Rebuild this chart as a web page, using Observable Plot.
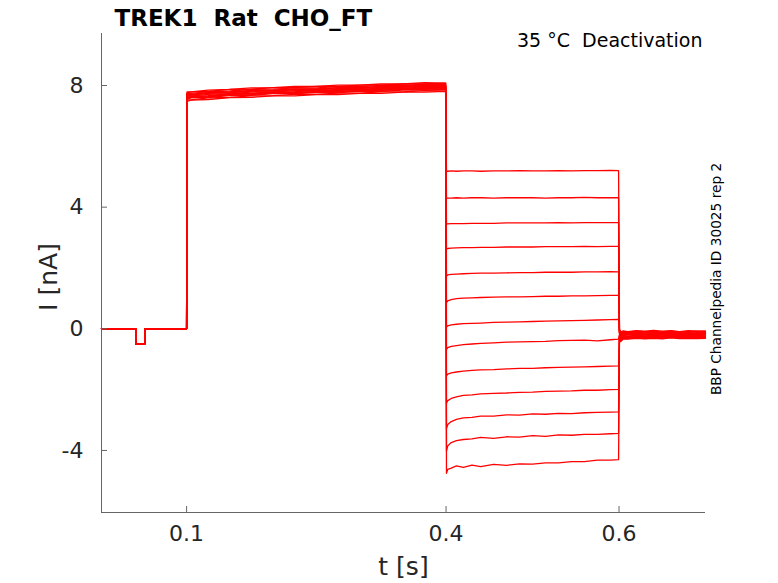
<!DOCTYPE html>
<html>
<head>
<meta charset="utf-8">
<script src="https://cdn.jsdelivr.net/npm/d3@7"></script>
<script src="https://cdn.jsdelivr.net/npm/@observablehq/plot@0.6"></script>
<style>
  html, body { margin: 0; padding: 0; background: #fff; }
  svg text { white-space: pre; }
</style>
</head>
<body>
<div id="chart"></div>
<script>
// ---- texts ----
const titleText = "TREK1  Rat  CHO_FT";
const conditionText = "35 °C  Deactivation";
const sideText = "BBP Channelpedia ID 30025 rep 2";
const xLabel = "t [s]";
const yLabel = "I [nA]";

// ---- axes ----
const xDomain = [0.0016, 0.7];
const yDomain = [-6.04, 9.71];
const xTicks = [0.1, 0.4, 0.6];
const yTicks = [-4, 0, 4, 8];

// ---- holding segment (shared by all sweeps) ----
const preT = [0.0016, 0.0412, 0.0412, 0.0516, 0.0516, 0.1];
const preI = [0, 0, -0.5, -0.5, 0, 0];

// ---- activation step 0.1 - 0.4 s ----
const actT = [0.1005, 0.105, 0.125, 0.15, 0.175, 0.2, 0.225, 0.25, 0.275, 0.3, 0.325, 0.35, 0.375, 0.3995];
const actI = [
  [7.61, 7.65, 7.67, 7.73, 7.74, 7.79, 7.80, 7.83, 7.83, 7.87, 7.87, 7.91, 7.91, 7.94],
  [7.71, 7.71, 7.77, 7.79, 7.84, 7.85, 7.89, 7.89, 7.93, 7.93, 7.97, 7.97, 8.01, 8.00],
  [7.53, 7.53, 7.59, 7.61, 7.66, 7.67, 7.71, 7.71, 7.75, 7.75, 7.79, 7.79, 7.83, 7.82],
  [7.75, 7.79, 7.81, 7.87, 7.88, 7.93, 7.93, 7.97, 7.97, 8.01, 8.01, 8.05, 8.05, 8.08],
  [7.65, 7.65, 7.71, 7.73, 7.78, 7.79, 7.83, 7.83, 7.87, 7.87, 7.91, 7.91, 7.95, 7.94],
  [7.55, 7.59, 7.61, 7.67, 7.68, 7.73, 7.73, 7.77, 7.77, 7.81, 7.81, 7.85, 7.85, 7.88],
  [7.74, 7.74, 7.80, 7.82, 7.87, 7.88, 7.92, 7.92, 7.96, 7.96, 8.00, 8.00, 8.04, 8.03],
  [7.59, 7.63, 7.65, 7.71, 7.72, 7.77, 7.77, 7.81, 7.81, 7.85, 7.85, 7.89, 7.89, 7.92],
  [7.68, 7.68, 7.74, 7.76, 7.81, 7.82, 7.86, 7.86, 7.90, 7.90, 7.94, 7.94, 7.98, 7.97],
  [7.48, 7.52, 7.54, 7.60, 7.61, 7.66, 7.66, 7.70, 7.70, 7.74, 7.74, 7.78, 7.78, 7.81],
  [7.79, 7.79, 7.85, 7.87, 7.92, 7.93, 7.97, 7.97, 8.01, 8.01, 8.05, 8.05, 8.09, 8.08],
  [7.57, 7.61, 7.63, 7.69, 7.70, 7.75, 7.75, 7.79, 7.79, 7.83, 7.83, 7.87, 7.87, 7.90],
  [7.70, 7.70, 7.76, 7.78, 7.83, 7.84, 7.88, 7.88, 7.92, 7.92, 7.96, 7.96, 8.00, 7.99]
];

// ---- tail (deactivation) steps 0.4 - 0.6 s ----
const tailT = [0.4005, 0.402, 0.406, 0.412, 0.42, 0.43, 0.44, 0.455, 0.47,
               0.485, 0.50, 0.515, 0.53, 0.545, 0.56, 0.575, 0.59, 0.5995];
const tailI = [
  [5.18, 5.18, 5.19, 5.18, 5.19, 5.19, 5.18, 5.19, 5.19, 5.20, 5.19, 5.19, 5.20, 5.19, 5.20, 5.20, 5.21, 5.20],
  [4.30, 4.30, 4.30, 4.31, 4.30, 4.31, 4.31, 4.30, 4.31, 4.31, 4.31, 4.30, 4.31, 4.31, 4.32, 4.31, 4.31, 4.31],
  [3.45, 3.45, 3.46, 3.46, 3.46, 3.47, 3.47, 3.47, 3.48, 3.48, 3.48, 3.48, 3.49, 3.48, 3.49, 3.49, 3.49, 3.49],
  [2.63, 2.64, 2.65, 2.66, 2.67, 2.67, 2.68, 2.68, 2.69, 2.69, 2.69, 2.70, 2.70, 2.70, 2.71, 2.70, 2.71, 2.71],
  [1.74, 1.77, 1.79, 1.80, 1.81, 1.82, 1.83, 1.83, 1.84, 1.85, 1.85, 1.86, 1.86, 1.86, 1.87, 1.87, 1.88, 1.87],
  [0.86, 0.92, 0.96, 0.99, 1.01, 1.02, 1.03, 1.04, 1.05, 1.05, 1.06, 1.07, 1.07, 1.08, 1.08, 1.09, 1.10, 1.10],
  [0.06, 0.10, 0.13, 0.15, 0.17, 0.18, 0.19, 0.21, 0.22, 0.23, 0.24, 0.25, 0.26, 0.27, 0.28, 0.29, 0.30, 0.31],
  [-0.68, -0.62, -0.58, -0.55, -0.52, -0.50, -0.48, -0.46, -0.44, -0.43, -0.42, -0.41, -0.39, -0.38, -0.37, -0.40, -0.36, -0.34],
  [-1.55, -1.49, -1.45, -1.42, -1.39, -1.37, -1.35, -1.34, -1.32, -1.30, -1.30, -1.28, -1.27, -1.26, -1.25, -1.24, -1.23, -1.22],
  [-2.45, -2.36, -2.29, -2.24, -2.19, -2.17, -2.14, -2.12, -2.11, -2.09, -2.08, -2.06, -2.05, -2.04, -2.02, -2.02, -2.00, -1.99],
  [-3.28, -3.15, -3.05, -2.98, -2.93, -2.91, -2.87, -2.87, -2.83, -2.84, -2.80, -2.81, -2.78, -2.79, -2.76, -2.75, -2.74, -2.73],
  [-4.02, -3.85, -3.74, -3.68, -3.64, -3.62, -3.57, -3.60, -3.55, -3.56, -3.51, -3.54, -3.49, -3.50, -3.47, -3.47, -3.45, -3.44],
  [-4.75, -4.62, -4.58, -4.51, -4.56, -4.48, -4.53, -4.46, -4.49, -4.44, -4.45, -4.41, -4.41, -4.37, -4.37, -4.32, -4.32, -4.30]
];

// ---- return to holding after 0.6 s ----
const postT = [0.6005, 0.602, 0.605, 0.61, 0.62, 0.63, 0.64, 0.65, 0.66, 0.67, 0.68, 0.69, 0.7];
const postI = [
  [-0.02, -0.10, -0.07, -0.09, -0.06, -0.08, -0.05, -0.08, -0.06, -0.09, -0.06, -0.08, -0.07],
  [-0.05, -0.12, -0.09, -0.11, -0.08, -0.10, -0.08, -0.11, -0.08, -0.10, -0.09, -0.08, -0.09],
  [-0.07, -0.15, -0.11, -0.13, -0.10, -0.12, -0.11, -0.13, -0.10, -0.12, -0.10, -0.12, -0.11],
  [-0.10, -0.17, -0.13, -0.15, -0.12, -0.14, -0.13, -0.15, -0.12, -0.14, -0.13, -0.14, -0.13],
  [-0.12, -0.19, -0.15, -0.17, -0.14, -0.17, -0.15, -0.17, -0.14, -0.16, -0.15, -0.16, -0.15],
  [-0.14, -0.22, -0.18, -0.19, -0.17, -0.19, -0.17, -0.19, -0.16, -0.18, -0.17, -0.18, -0.17],
  [-0.17, -0.24, -0.20, -0.21, -0.19, -0.21, -0.19, -0.21, -0.18, -0.20, -0.19, -0.20, -0.19],
  [-0.19, -0.27, -0.22, -0.24, -0.21, -0.23, -0.21, -0.23, -0.20, -0.22, -0.21, -0.22, -0.21],
  [-0.22, -0.29, -0.25, -0.26, -0.23, -0.25, -0.23, -0.25, -0.22, -0.24, -0.23, -0.24, -0.23],
  [-0.25, -0.32, -0.27, -0.28, -0.25, -0.27, -0.25, -0.27, -0.24, -0.26, -0.25, -0.26, -0.25],
  [-0.28, -0.35, -0.29, -0.30, -0.27, -0.29, -0.27, -0.29, -0.26, -0.28, -0.27, -0.28, -0.27],
  [-0.31, -0.38, -0.31, -0.32, -0.29, -0.31, -0.29, -0.31, -0.28, -0.30, -0.29, -0.30, -0.29],
  [-0.35, -0.42, -0.34, -0.34, -0.31, -0.33, -0.31, -0.33, -0.30, -0.32, -0.31, -0.32, -0.31]
];

// ---- build long table ----
const rows = [];
for (let k = 0; k < tailI.length; k++) {
  preT.forEach((t, j) => rows.push({sweep: k, t, i: preI[j]}));
  actT.forEach((t, j) => rows.push({sweep: k, t, i: actI[k][j]}));
  tailT.forEach((t, j) => rows.push({sweep: k, t, i: tailI[k][j]}));
  postT.forEach((t, j) => rows.push({sweep: k, t, i: postI[k][j]}));
}

const axisGray = "#666666";
const textDark = "#262626";

const chart = Plot.plot({
  width: 778,
  height: 583,
  marginLeft: 101,
  marginRight: 73,
  marginTop: 33,
  marginBottom: 71,
  style: {fontFamily: "DejaVu Sans", background: "#fff", color: textDark},
  x: {domain: xDomain, label: null},
  y: {domain: yDomain, label: null},
  marks: [
    Plot.line(rows, {x: "t", y: "i", z: "sweep", stroke: "#ff0000", strokeWidth: 1.3}),
    Plot.ruleX([xDomain[0]], {stroke: axisGray, strokeWidth: 1}),
    Plot.ruleY([yDomain[0]], {stroke: axisGray, strokeWidth: 1}),
    Plot.axisX({ticks: xTicks, tickFormat: d => String(d), tickSize: -6, tickPadding: 19,
                fontSize: 22, stroke: axisGray, fill: textDark, label: null}),
    Plot.axisY({ticks: yTicks, tickFormat: d => String(d), tickSize: -6, tickPadding: 24,
                fontSize: 22, stroke: axisGray, fill: textDark, label: null}),
    Plot.text([xLabel], {text: d => d, frameAnchor: "bottom", dy: 54, lineAnchor: "middle",
                         textAnchor: "middle", fontSize: 25, fill: textDark}),
    Plot.text([yLabel], {text: d => d, frameAnchor: "left", dx: -53, dy: 4, rotate: -90,
                         textAnchor: "middle", lineAnchor: "middle", fontSize: 25, fill: textDark}),
    Plot.text([titleText], {text: d => d, frameAnchor: "top-left", dx: 13, dy: -14.5,
                            textAnchor: "start", lineAnchor: "middle", fontSize: 23,
                            fontWeight: "bold", fill: "#000"}),
    Plot.text([conditionText], {text: d => d, frameAnchor: "top-right", dx: -3, dy: 7,
                                textAnchor: "end", lineAnchor: "middle", fontSize: 19, fill: "#000"}),
    Plot.text([sideText], {text: d => d, frameAnchor: "right", dx: 11, dy: 6, rotate: -90,
                           textAnchor: "middle", lineAnchor: "middle", fontSize: 13.7, fill: "#000"})
  ]
});
document.getElementById("chart").appendChild(chart);
</script>
</body>
</html>
